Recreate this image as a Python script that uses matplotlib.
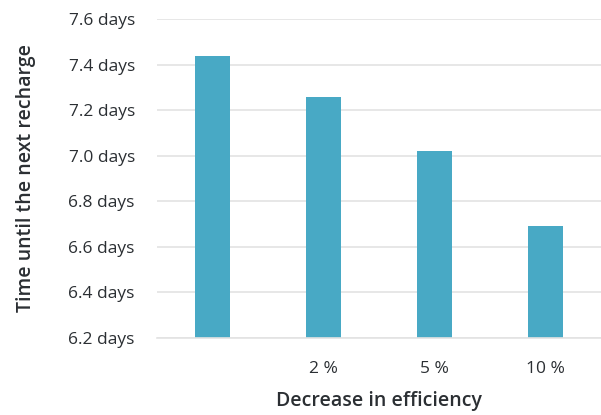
import matplotlib
matplotlib.use("Agg")
import matplotlib.pyplot as plt

categories = ["", "2 %", "5 %", "10 %"]
values = [7.44, 7.26, 7.02, 6.69]
yticks = [6.2, 6.4, 6.6, 6.8, 7.0, 7.2, 7.4, 7.6]

text_color = "#2b2f33"
bar_color = "#48a9c5"

plt.rcParams["font.family"] = ["Open Sans", "DejaVu Sans"]

fig = plt.figure(figsize=(6.01, 4.15), dpi=100)
ax = fig.add_axes([157 / 601, 1 - 337.5 / 415, (601 - 157) / 601, (337.5 - 19.3) / 415])

x = range(len(categories))
ax.bar(x, [v - 6.2 for v in values], bottom=6.2, width=0.315, color=bar_color, zorder=2)

ax.set_xlim(-0.5, len(categories) - 0.5)
ax.set_ylim(6.2, 7.6)
ax.set_yticks(yticks)
ax.set_yticklabels([f"{t:.1f} days" for t in yticks])
ax.set_xticks(list(x))
ax.set_xticklabels(categories)

ax.grid(axis="y", color="#e3e3e3", linewidth=1.2, zorder=0)
for s in ["top", "right", "left"]:
    ax.spines[s].set_visible(False)
ax.spines["bottom"].set_color("#e3e3e3")
ax.spines["bottom"].set_linewidth(1.2)

ax.tick_params(axis="both", length=0, labelsize=12.5, labelcolor=text_color)
ax.tick_params(axis="y", pad=16)
ax.tick_params(axis="x", pad=17)

ax.set_xlabel("Decrease in efficiency", fontsize=14, fontweight="semibold",
              color=text_color, labelpad=10)
ax.set_ylabel("Time until the next recharge", fontsize=14, fontweight="semibold",
              color=text_color, labelpad=23)

fig.savefig("out.png", dpi=100)
